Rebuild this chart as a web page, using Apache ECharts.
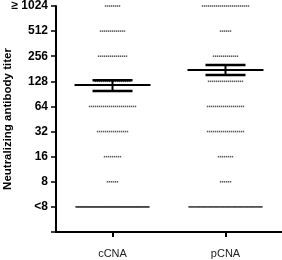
<!DOCTYPE html>
<html><head><meta charset="utf-8">
<script src="https://cdn.jsdelivr.net/npm/echarts@6/dist/echarts.min.js"></script>
<style>html,body{margin:0;padding:0;background:#fff}#c{width:282px;height:260px}</style>
</head><body><div id="c"></div>
<script>
const categories = ['cCNA', 'pCNA'];
const titerLabels = ['<8', '8', '16', '32', '64', '128', '256', '512', '≥ 1024'];
const titerValues = [4, 8, 16, 32, 64, 128, 256, 512, 1024];
const cCNACounts = [110, 6, 9, 16, 24, 18, 15, 13, 8];
const pCNACounts = [80, 6, 8, 19, 19, 18, 13, 6, 24];
const means = [116, 175];
const semLow = [98, 152];
const semHigh = [132, 201];

const chart = echarts.init(document.getElementById('c'), null, {renderer: 'canvas'});
const gridLeft = 56, gridRight = 0;
const unitPx = (282 - gridLeft - gridRight) / categories.length;
const dotGapPx = 2, maxRowPx = 73;

function rowPoints(catIdx, counts) {
  const pts = [];
  counts.forEach((n, li) => {
    const y = Math.log2(titerValues[li]);
    const gap = n > 1 ? Math.min(dotGapPx, maxRowPx / (n - 1)) / unitPx : 0;
    const c = catIdx + 0.5;
    for (let j = 0; j < n; j++) pts.push([c + (j - (n - 1) / 2) * gap, y]);
  });
  return pts;
}

const statData = categories.map((c, i) => [i + 0.5, Math.log2(means[i]), Math.log2(semLow[i]), Math.log2(semHigh[i])]);

chart.setOption({
  animation: false,
  grid: {left: gridLeft, right: gridRight, top: 6, bottom: 28, containLabel: false, outerBoundsMode: 'none'},
  xAxis: [
    {type: 'category', data: categories, boundaryGap: true,
     axisLine: {show: true, onZero: false, lineStyle: {color: '#000', width: 2}},
     axisTick: {show: true, alignWithLabel: true, length: 5, lineStyle: {color: '#000', width: 2}},
     axisLabel: {fontFamily: 'Liberation Sans', fontSize: 11, color: '#222', margin: 16}},
    {type: 'value', min: 0, max: categories.length, show: false}
  ],
  yAxis: {
    type: 'value', min: 1, max: 10, interval: 1,
    name: 'Neutralizing antibody titer', nameLocation: 'middle', nameGap: 42, nameMoveOverlap: false,
    nameTextStyle: {fontFamily: 'Liberation Sans', fontWeight: 'bold', fontSize: 11.5, color: '#000'},
    axisLine: {show: true, onZero: false, lineStyle: {color: '#000', width: 2}},
    axisTick: {show: true, length: 5, lineStyle: {color: '#000', width: 1.5}},
    axisLabel: {margin: 8, fontFamily: 'Liberation Sans', fontWeight: 'bold', fontSize: 12, color: '#000',
      formatter: v => { const i = titerValues.indexOf(Math.pow(2, v)); return i >= 0 ? titerLabels[i] : ''; }},
    splitLine: {show: false}
  },
  series: [
    {type: 'scatter', xAxisIndex: 1, data: rowPoints(0, cCNACounts), symbol: 'rect', symbolSize: [1.4, 1.6],
     itemStyle: {color: '#333'}, silent: true},
    {type: 'scatter', xAxisIndex: 1, data: rowPoints(1, pCNACounts), symbol: 'rect', symbolSize: [1.4, 1.6],
     itemStyle: {color: '#333'}, silent: true},
    {type: 'custom', xAxisIndex: 1, data: statData, z: 10,
     renderItem: (params, api) => {
       const m = api.coord([api.value(0), api.value(1)]);
       const lo = api.coord([api.value(0), api.value(2)]);
       const hi = api.coord([api.value(0), api.value(3)]);
       const st = {stroke: '#000', lineWidth: 2};
       const cap = {stroke: '#000', lineWidth: 2.5};
       return {type: 'group', children: [
         {type: 'line', shape: {x1: m[0] - 38, y1: m[1], x2: m[0] + 38, y2: m[1]}, style: st},
         {type: 'line', shape: {x1: lo[0], y1: lo[1], x2: hi[0], y2: hi[1]}, style: st},
         {type: 'line', shape: {x1: lo[0] - 20, y1: lo[1], x2: lo[0] + 20, y2: lo[1]}, style: cap},
         {type: 'line', shape: {x1: hi[0] - 20, y1: hi[1], x2: hi[0] + 20, y2: hi[1]}, style: cap}
       ]};
     }}
  ]
});
</script></body></html>
